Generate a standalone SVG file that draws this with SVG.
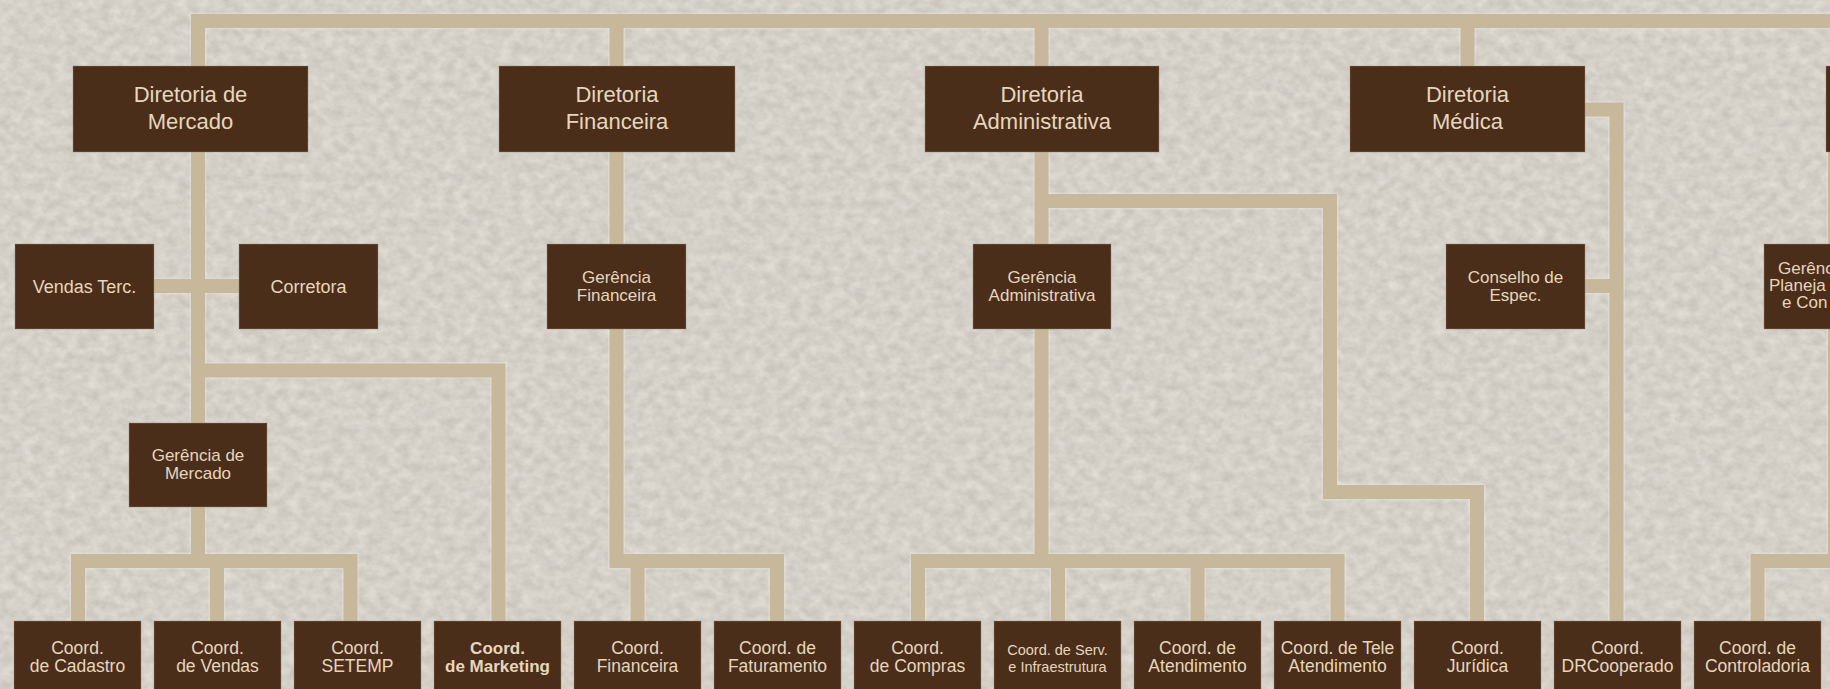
<svg xmlns="http://www.w3.org/2000/svg" width="1830" height="689" viewBox="0 0 1830 689">
<defs>
<filter id="stone" x="0" y="0" width="1830" height="689" filterUnits="userSpaceOnUse" color-interpolation-filters="sRGB">
<feTurbulence type="fractalNoise" baseFrequency="0.09 0.11" numOctaves="3" seed="7" result="n"/>
<feColorMatrix in="n" type="matrix" values="0.14 0 0 0 0.762  0.14 0 0 0 0.747  0.14 0 0 0 0.716  0 0 0 0 1"/>
</filter>
<style>
.box{fill:#4a2e19;stroke:#9c8a76;stroke-opacity:.45;stroke-width:1}
.t{font-family:"Liberation Sans",Arial,sans-serif;fill:#e6d6bf;text-anchor:middle}
.ts{font-family:"Liberation Sans",Arial,sans-serif;fill:#e6d6bf;text-anchor:start;font-size:17px}
.t22{font-size:22px}
.t18{font-size:18px}
.t17{font-size:17px}
.t175{font-size:17.5px}
.t15{font-size:14.5px}
.b{font-weight:bold}
.halo{fill:none;stroke:#efece6;stroke-width:17;stroke-opacity:.35;stroke-linejoin:miter}
.ln{fill:none;stroke:#c7b89c;stroke-width:14;stroke-linejoin:miter;stroke-linecap:butt}
</style>
</defs>
<rect width="1830" height="689" fill="#d6d2ca"/>
<rect width="1830" height="689" filter="url(#stone)"/>

<g id="connectors">
<g class="halo">
<path d="M198,561 V21 H1840"/>
<path d="M78,622 V561 H350.5 V622 M217,561 V622"/>
<path d="M154,286 H239"/>
<path d="M198,370.5 H498.5 V622"/>
<path d="M616.5,21 V561 H777 V622 M637.5,561 V622"/>
<path d="M1041.5,21 V561"/>
<path d="M918,622 V561 H1337.5 V622 M1058,561 V622 M1197.5,561 V622"/>
<path d="M1041.5,201 H1330 V492 H1477 V622"/>
<path d="M1467.5,21 V66"/>
<path d="M1585,109.5 H1616.5 V622"/>
<path d="M1585,286 H1616.5"/>
<path d="M1835,152 V561 H1757.5 V622"/>
</g>
<g class="ln">
<path d="M198,561 V21 H1840"/>
<path d="M78,622 V561 H350.5 V622 M217,561 V622"/>
<path d="M154,286 H239"/>
<path d="M198,370.5 H498.5 V622"/>
<path d="M616.5,21 V561 H777 V622 M637.5,561 V622"/>
<path d="M1041.5,21 V561"/>
<path d="M918,622 V561 H1337.5 V622 M1058,561 V622 M1197.5,561 V622"/>
<path d="M1041.5,201 H1330 V492 H1477 V622"/>
<path d="M1467.5,21 V66"/>
<path d="M1585,109.5 H1616.5 V622"/>
<path d="M1585,286 H1616.5"/>
<path d="M1835,152 V561 H1757.5 V622"/>
</g>
</g>

<g id="dir-mercado"><rect class="box" x="73" y="66" width="235" height="86"/><text class="t t22"><tspan x="190.5" y="101.5">Diretoria de</tspan><tspan x="190.5" y="129">Mercado</tspan></text></g>
<g id="dir-financeira"><rect class="box" x="499" y="66" width="236" height="86"/><text class="t t22"><tspan x="617" y="101.5">Diretoria</tspan><tspan x="617" y="129">Financeira</tspan></text></g>
<g id="dir-administrativa"><rect class="box" x="925" y="66" width="234" height="86"/><text class="t t22"><tspan x="1042" y="101.5">Diretoria</tspan><tspan x="1042" y="129">Administrativa</tspan></text></g>
<g id="dir-medica"><rect class="box" x="1350" y="66" width="235" height="86"/><text class="t t22"><tspan x="1467.5" y="101.5">Diretoria</tspan><tspan x="1467.5" y="129">Médica</tspan></text></g>
<g id="dir-right"><rect class="box" x="1826" y="66" width="235" height="86"/></g>

<g id="vendas-terc"><rect class="box" x="15" y="244" width="139" height="85"/><text class="t t18" x="84.5" y="292.5">Vendas Terc.</text></g>
<g id="corretora"><rect class="box" x="239" y="244" width="139" height="85"/><text class="t t18" x="308.5" y="292.5">Corretora</text></g>
<g id="ger-financeira"><rect class="box" x="547" y="244" width="139" height="85"/><text class="t t17"><tspan x="616.5" y="283">Gerência</tspan><tspan x="616.5" y="301">Financeira</tspan></text></g>
<g id="ger-administrativa"><rect class="box" x="973" y="244" width="138" height="85"/><text class="t t17"><tspan x="1042" y="283">Gerência</tspan><tspan x="1042" y="301">Administrativa</tspan></text></g>
<g id="conselho"><rect class="box" x="1446" y="244" width="139" height="85"/><text class="t t17"><tspan x="1515.5" y="283">Conselho de</tspan><tspan x="1515.5" y="301">Espec.</tspan></text></g>
<g id="ger-planejamento"><rect class="box" x="1764" y="244" width="139" height="85"/><text class="ts"><tspan x="1778" y="274">Gerênc</tspan><tspan x="1769" y="291">Planeja</tspan><tspan x="1782" y="308">e Con</tspan></text></g>
<g id="ger-mercado"><rect class="box" x="129" y="423" width="138" height="84"/><text class="t t17"><tspan x="198" y="461">Gerência de</tspan><tspan x="198" y="479">Mercado</tspan></text></g>

<g id="c-cadastro"><rect class="box" x="14" y="621" width="127" height="72"/><text class="t t175"><tspan x="77.5" y="654">Coord.</tspan><tspan x="77.5" y="672">de Cadastro</tspan></text></g>
<g id="c-vendas"><rect class="box" x="154" y="621" width="127" height="72"/><text class="t t175"><tspan x="217.5" y="654">Coord.</tspan><tspan x="217.5" y="672">de Vendas</tspan></text></g>
<g id="c-setemp"><rect class="box" x="294" y="621" width="127" height="72"/><text class="t t175"><tspan x="357.5" y="654">Coord.</tspan><tspan x="357.5" y="672">SETEMP</tspan></text></g>
<g id="c-marketing"><rect class="box" x="434" y="621" width="127" height="72"/><text class="t t17 b"><tspan x="497.5" y="654">Coord.</tspan><tspan x="497.5" y="672">de Marketing</tspan></text></g>
<g id="c-financeira"><rect class="box" x="574" y="621" width="127" height="72"/><text class="t t175"><tspan x="637.5" y="654">Coord.</tspan><tspan x="637.5" y="672">Financeira</tspan></text></g>
<g id="c-faturamento"><rect class="box" x="714" y="621" width="127" height="72"/><text class="t t175"><tspan x="777.5" y="654">Coord. de</tspan><tspan x="777.5" y="672">Faturamento</tspan></text></g>
<g id="c-compras"><rect class="box" x="854" y="621" width="127" height="72"/><text class="t t175"><tspan x="917.5" y="654">Coord.</tspan><tspan x="917.5" y="672">de Compras</tspan></text></g>
<g id="c-servicos"><rect class="box" x="994" y="621" width="127" height="72"/><text class="t t15"><tspan x="1057.5" y="655">Coord. de Serv.</tspan><tspan x="1057.5" y="671.5">e Infraestrutura</tspan></text></g>
<g id="c-atendimento"><rect class="box" x="1134" y="621" width="127" height="72"/><text class="t t175"><tspan x="1197.5" y="654">Coord. de</tspan><tspan x="1197.5" y="672">Atendimento</tspan></text></g>
<g id="c-tele"><rect class="box" x="1274" y="621" width="127" height="72"/><text class="t t175"><tspan x="1337.5" y="654">Coord. de Tele</tspan><tspan x="1337.5" y="672">Atendimento</tspan></text></g>
<g id="c-juridica"><rect class="box" x="1414" y="621" width="127" height="72"/><text class="t t175"><tspan x="1477.5" y="654">Coord.</tspan><tspan x="1477.5" y="672">Jurídica</tspan></text></g>
<g id="c-drcooperado"><rect class="box" x="1554" y="621" width="127" height="72"/><text class="t t175"><tspan x="1617.5" y="654">Coord.</tspan><tspan x="1617.5" y="672">DRCooperado</tspan></text></g>
<g id="c-controladoria"><rect class="box" x="1694" y="621" width="127" height="72"/><text class="t t175"><tspan x="1757.5" y="654">Coord. de</tspan><tspan x="1757.5" y="672">Controladoria</tspan></text></g>
</svg>
